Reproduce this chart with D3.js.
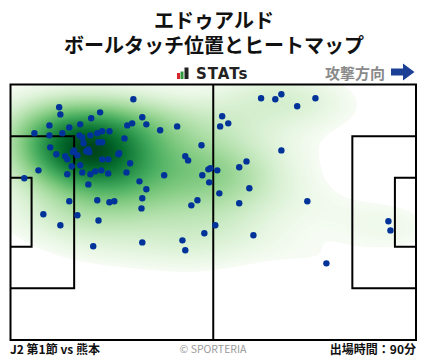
<!DOCTYPE html>
<html lang="ja">
<head>
<meta charset="UTF-8">
<title>エドゥアルド ボールタッチ位置とヒートマップ</title>
<script src="https://d3js.org/d3.v7.min.js"></script>
<style>
  body { margin: 0; background: #fff; }
  svg { display: block; font-family: "Noto Sans CJK JP", "Noto Sans", sans-serif; }
</style>
</head>
<body>
<svg id="chart" width="428" height="359"></svg>
<script>
// ボールタッチ位置 (ピッチ座標 0-100、右が攻撃方向、上から下へ)
const touchX = [12.0,12.3,30.3,22.1,19.9,32.5,9.6,14.5,17.2,30.0,
                28.8,33.5,41.1,36.9,5.9,9.6,12.8,17.0,17.7,19.7,
                21.4,22.6,24.4,28.1,18.0,21.7,22.6,9.8,47.1,11.3,
                13.5,14.0,15.7,16.5,18.7,19.4,19.2,22.6,24.1,26.6,
                26.8,29.5,43.1,43.8,6.9,15.1,17.2,17.7,14.0,19.7,
                20.9,22.4,24.1,28.6,3.4,37.9,48.8,49.3,51.0,47.3,
                49.0,19.2,31.8,33.5,21.4,24.4,25.6,32.5,32.3,14.5,
                46.1,44.6,8.1,16.5,21.7,51.5,15.4,12.3,20.4,47.8,
                42.4,32.5,43.1,61.8,65.3,66.8,70.7,75.2,52.2,51.7,
                53.7,66.8,58.2,56.4,58.9,56.4,73.2,50.5,59.9,77.9,93.2,93.7];
const touchY = [8.9,11.7,5.8,10.9,13.2,12.8,16.0,16.8,15.6,15.2,
                16.0,15.6,16.4,17.9,19.1,19.9,19.1,19.9,20.7,19.9,
                19.1,18.3,18.3,21.1,23.0,22.6,22.6,24.6,23.8,27.3,
                28.1,29.3,25.8,27.7,26.1,26.5,25.4,29.3,29.3,27.3,
                26.9,30.8,28.1,29.7,33.6,32.0,31.6,34.4,35.1,35.1,
                34.0,33.6,34.8,34.4,36.7,35.5,33.2,32.8,33.6,35.5,
                38.3,39.1,37.9,41.0,45.3,46.1,45.7,44.5,48.5,45.7,
                45.3,47.3,50.8,51.2,53.2,42.6,26.4,55.1,63.3,58.2,
                61.0,61.8,64.9,5.4,5.8,3.8,8.5,5.4,12.4,16.4,
                15.2,25.8,30.1,32.4,40.6,46.5,45.7,55.1,59.0,70.0,53.5,57.1];

const playerName = "エドゥアルド";
const chartTitle = "ボールタッチ位置とヒートマップ";
const matchLabel = "J2 第1節 vs 熊本";
const minutesLabel = "出場時間：90分";

const svg = d3.select("#chart");
svg.append("rect").attr("width", 428).attr("height", 359).attr("fill", "#fff");

const pitch = { left: 10.5, right: 416, top: 84.5, bottom: 340 };
const x = d3.scaleLinear().domain([0, 100]).range([pitch.left, pitch.right]);
const y = d3.scaleLinear().domain([0, 100]).range([pitch.top, pitch.bottom]);

const points = touchX.map((v, i) => [v, touchY[i]]);

// --- ヒートマップ: ガウスKDE (Scott則, 共分散行列) ---
const n = points.length;
const mx = d3.mean(touchX), my = d3.mean(touchY);
let sxx = 0, syy = 0, sxy = 0;
points.forEach(([a, b]) => { sxx += (a - mx) ** 2; syy += (b - my) ** 2; sxy += (a - mx) * (b - my); });
sxx /= n - 1; syy /= n - 1; sxy /= n - 1;
const bwAdjust = 1.1;
const f2 = Math.pow(n, -1 / 3) * bwAdjust * bwAdjust;
const cxx = sxx * f2, cyy = syy * f2, cxy = sxy * f2;
const det = cxx * cyy - cxy * cxy;
const ixx = cyy / det, iyy = cxx / det, ixy = -cxy / det;

const bwx = Math.sqrt(cxx), bwy = Math.sqrt(cyy);
const gx0 = d3.min(touchX) - 3 * bwx, gx1 = d3.max(touchX) + 3 * bwx;
const gy0 = d3.min(touchY) - 3 * bwy, gy1 = d3.max(touchY) + 3 * bwy;
const G = 200;
const stepX = (gx1 - gx0) / (G - 1), stepY = (gy1 - gy0) / (G - 1);
const grid = new Float64Array(G * G);
for (let j = 0; j < G; j++) {
  const yy = gy0 + j * stepY;
  for (let i = 0; i < G; i++) {
    const xx = gx0 + i * stepX;
    let s = 0;
    for (const [a, b] of points) {
      const dx = xx - a, dy = yy - b;
      s += Math.exp(-0.5 * (ixx * dx * dx + 2 * ixy * dx * dy + iyy * dy * dy));
    }
    grid[j * G + i] = s;
  }
}

// 等確率レベル (thresh 0.05, 100段)
const sorted = Array.from(grid).sort((a, b) => b - a);
const total = d3.sum(sorted);
const cum = Array.from(d3.cumsum(sorted), v => v / total);
const levels = d3.range(100).map(k => {
  const q = 0.05 + k * (0.95 / 99);
  const idx = d3.bisectLeft(cum, 1 - q);
  return sorted[Math.min(idx, sorted.length - 1)];
});
const L0 = levels[0], L1 = levels[levels.length - 1];

const contours = d3.contours().size([G, G]).thresholds(levels.slice(0, -1))(grid);
const proj = d3.geoTransform({
  point(px, py) { this.stream.point(x(gx0 + (px - 0.5) * stepX), y(gy0 + (py - 0.5) * stepY)); }
});
const path = d3.geoPath(proj);

svg.append("clipPath").attr("id", "pitch-clip")
  .append("rect")
  .attr("x", x(0)).attr("y", y(0))
  .attr("width", x(100) - x(0)).attr("height", y(100) - y(0));

svg.append("g").attr("clip-path", "url(#pitch-clip)")
  .selectAll("path")
  .data(contours)
  .join("path")
  .attr("d", path)
  .attr("fill", (d, i) => {
    const mid = (levels[i] + levels[i + 1]) / 2;
    return d3.interpolateGreens(Math.pow((mid - L0) / (L1 - L0), 0.8));
  });

// --- ピッチライン ---
const lines = svg.append("g").attr("fill", "none").attr("stroke", "#000").attr("stroke-width", 2);
lines.append("rect")
  .attr("x", x(0)).attr("y", y(0))
  .attr("width", x(100) - x(0)).attr("height", y(100) - y(0));
lines.append("line").attr("x1", x(50)).attr("x2", x(50)).attr("y1", y(0)).attr("y2", y(100));

const boxDepth = 15.7, boxTop = 20.3, boxBottom = 79.7;
const sixDepth = 5.2, sixTop = 36.5, sixBottom = 63.5;
const box = (x0, x1, y0, y1) => `M${x(x0)},${y(y0)}H${x(x1)}V${y(y1)}H${x(x0)}`;
lines.append("path").attr("d", box(0, boxDepth, boxTop, boxBottom));
lines.append("path").attr("d", box(0, sixDepth, sixTop, sixBottom));
lines.append("path").attr("d", box(100, 100 - boxDepth, boxTop, boxBottom));
lines.append("path").attr("d", box(100, 100 - sixDepth, sixTop, sixBottom));

// --- タッチ位置 ---
svg.append("g")
  .selectAll("circle")
  .data(points)
  .join("circle")
  .attr("cx", d => x(d[0]))
  .attr("cy", d => y(d[1]))
  .attr("r", 3.2)
  .attr("fill", "#003399");

// --- タイトル ---
svg.append("text").attr("x", 214).attr("y", 28)
  .attr("text-anchor", "middle").attr("font-size", 20).attr("font-weight", "bold").attr("fill", "#111")
  .text(playerName);
svg.append("text").attr("x", 214).attr("y", 53)
  .attr("text-anchor", "middle").attr("font-size", 20).attr("font-weight", "bold").attr("fill", "#111")
  .text(chartTitle);

// STATs ロゴ
const logo = svg.append("g");
logo.append("rect").attr("x", 177).attr("y", 73).attr("width", 3).attr("height", 6).attr("fill", "#d7282e");
logo.append("rect").attr("x", 180.5).attr("y", 71.5).attr("width", 3).attr("height", 7.5).attr("fill", "#2f9a3c");
logo.append("rect").attr("x", 184.5).attr("y", 67.5).attr("width", 4).attr("height", 11.5).attr("fill", "#222");
logo.append("text").attr("x", 196).attr("y", 79)
  .attr("font-family", "DejaVu Sans, sans-serif")
  .attr("font-size", 15).attr("font-weight", "bold").attr("letter-spacing", 1).attr("fill", "#222")
  .text("STATs");

// 攻撃方向
svg.append("text").attr("x", 385).attr("y", 78.5)
  .attr("text-anchor", "end").attr("font-size", 15).attr("font-weight", "bold").attr("fill", "#8a8a8a")
  .text("攻撃方向");
svg.append("path")
  .attr("d", "M391,68.5H403V63.5L414.5,72L403,80.5V75.5H391Z")
  .attr("fill", "#1a3f95");

// --- フッター ---
svg.append("text").attr("x", 10).attr("y", 354)
  .attr("font-size", 12).attr("font-weight", "bold").attr("fill", "#111")
  .text(matchLabel);
svg.append("text").attr("x", 213).attr("y", 353)
  .attr("text-anchor", "middle").attr("font-size", 10.5).attr("fill", "#9a9a9a")
  .text("© SPORTERIA");
svg.append("text").attr("x", 416).attr("y", 354)
  .attr("text-anchor", "end").attr("font-size", 12).attr("font-weight", "bold").attr("fill", "#111")
  .text(minutesLabel);
</script>
</body>
</html>
